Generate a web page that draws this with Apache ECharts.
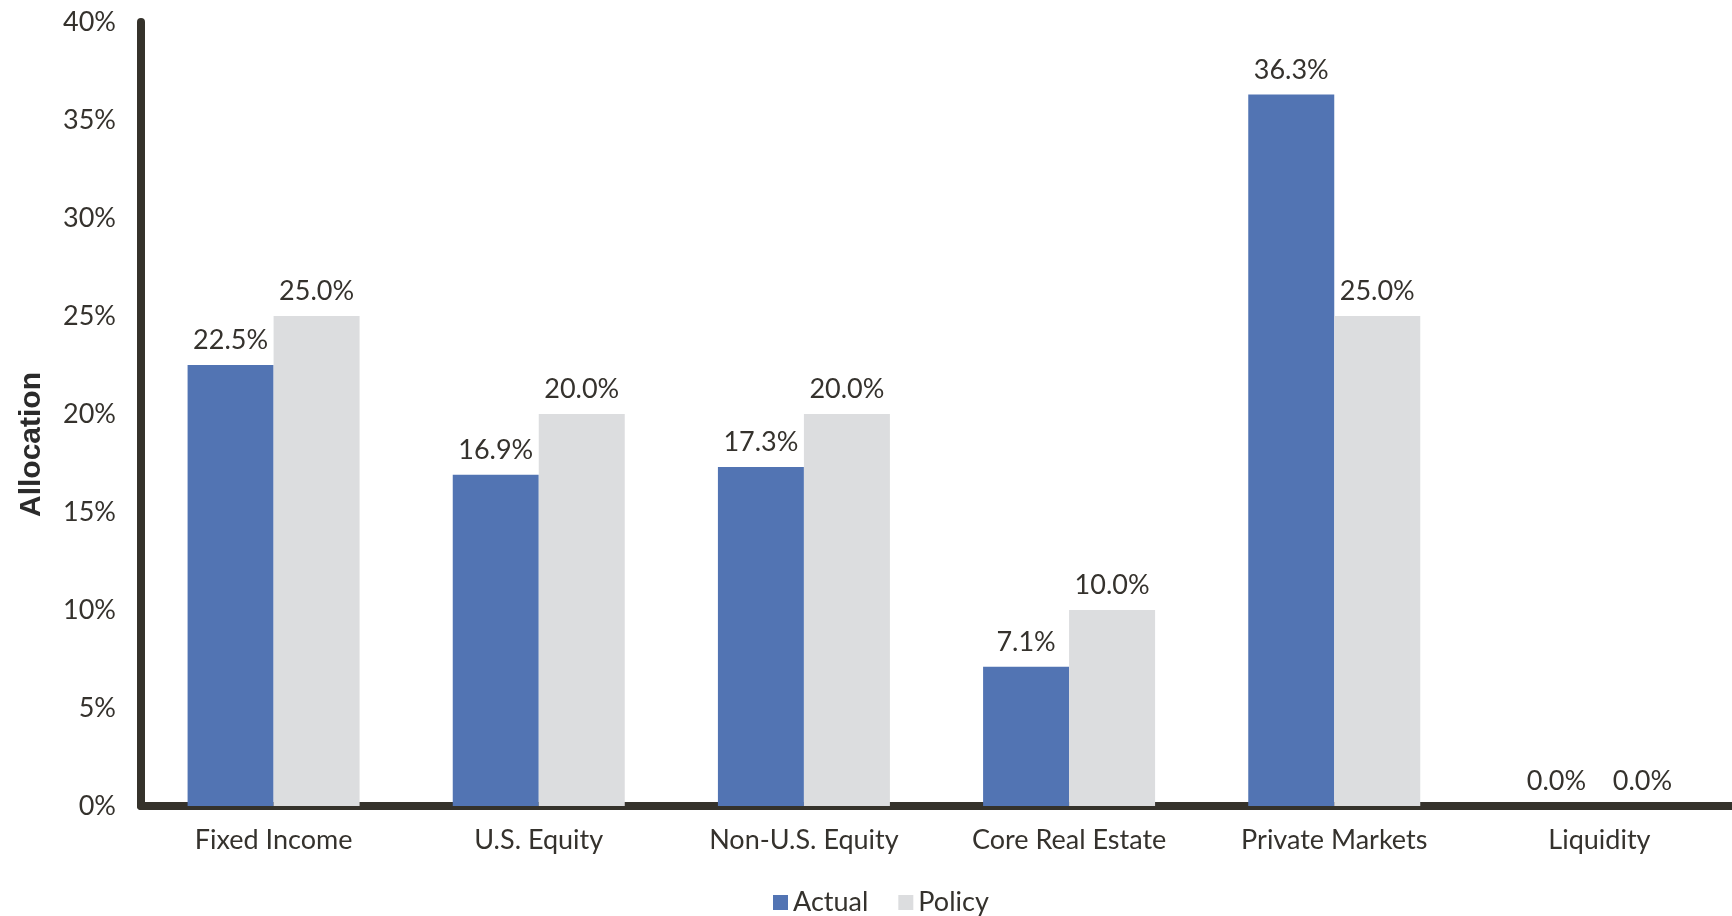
<!DOCTYPE html>
<html>
<head>
<meta charset="utf-8">
<script src="https://cdn.jsdelivr.net/npm/echarts@6/dist/echarts.min.js"></script>
<style>
    html, body { margin: 0; padding: 0; background: #fff; }
    #chart { width: 1732px; height: 916px; }
</style>
</head>
<body>
<div id="chart"></div>
<script>
// asset classes and allocations (percent)
const categories = ['Fixed Income', 'U.S. Equity', 'Non-U.S. Equity', 'Core Real Estate', 'Private Markets', 'Liquidity'];
const actual = [22.5, 16.9, 17.3, 7.1, 36.3, 0.0];
const policy = [25.0, 20.0, 20.0, 10.0, 25.0, 0.0];
const yTicks = [0, 5, 10, 15, 20, 25, 30, 35, 40];

const textColor = '#35322d';
const font = 'Lato';

function barSeries(name, data, color) {
    return {
        name: name,
        type: 'bar',
        data: data,
        barWidth: 86,
        barGap: '0%',
        itemStyle: { color: color },
        label: {
            show: true,
            position: 'top',
            distance: 11,
            formatter: p => p.value.toFixed(1) + '%',
            color: textColor,
            fontFamily: font,
            fontSize: 27
        }
    };
}

var myChart = echarts.init(document.getElementById('chart'));

var option = {
    animation: false,
    grid: { left: 141, right: -3, top: 22, bottom: 110 },
    legend: {
        left: 768,
        top: 884,
        itemWidth: 15,
        itemHeight: 15,
        itemGap: 30,
        icon: 'rect',
        textStyle: { color: textColor, fontFamily: font, fontSize: 27 },
        data: ['Actual', 'Policy']
    },
    xAxis: {
        type: 'category',
        data: categories,
        axisLine: { lineStyle: { color: '#35322b', width: 8 } },
        axisTick: { show: false },
        axisLabel: { color: textColor, fontFamily: font, fontSize: 27, margin: 21 }
    },
    yAxis: {
        type: 'value',
        min: yTicks[0],
        max: yTicks[yTicks.length - 1],
        interval: 5,
        axisLine: { show: true, lineStyle: { color: '#35322b', width: 8 } },
        axisTick: { show: false },
        splitLine: { show: false },
        axisLabel: {
            color: textColor,
            fontFamily: font,
            fontSize: 27,
            margin: 25,
            formatter: v => v + '%'
        }
    },
    graphic: [{
        type: 'text',
        left: 17,
        top: 372,
        rotation: Math.PI / 2,
        style: {
            text: 'Allocation',
            fill: '#2b2b2b',
            font: 'bold 30px "Liberation Sans", Arial, sans-serif'
        }
    }],
    series: [
        barSeries('Actual', actual, '#5274b3'),
        barSeries('Policy', policy, '#dcdddf')
    ]
};
myChart.setOption(option);
</script>
</body>
</html>
